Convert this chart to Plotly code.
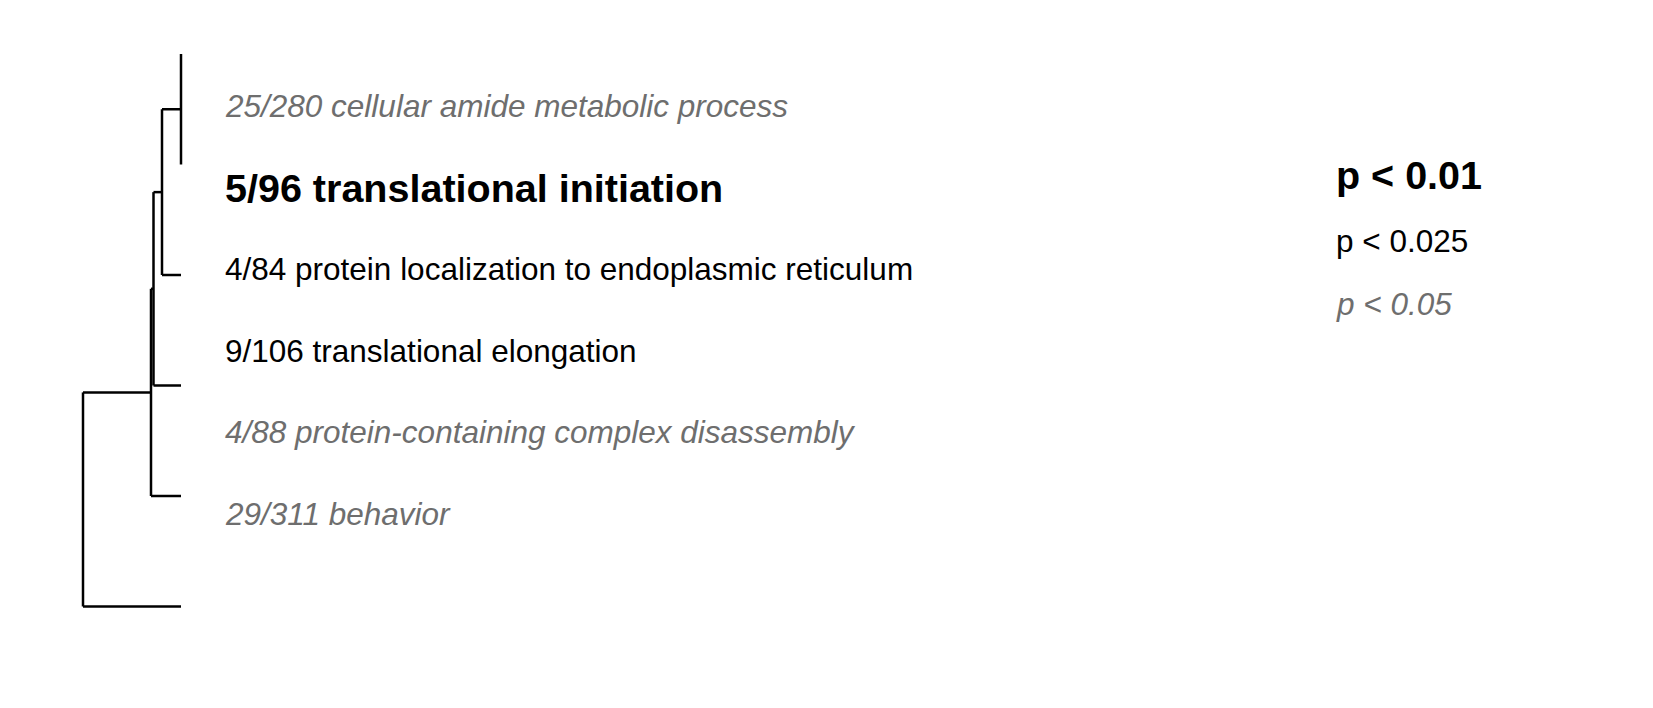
import plotly.graph_objects as go

# ---- data ----
# hclust-style merges: (left, right, height); negative = leaf index, positive = earlier merge
merge_left = [-1, 1, 2, 3, 4]
merge_right = [-2, -3, -4, -5, -6]
merge_height = [0.0, 19.0, 27.5, 30.0, 98.0]
n_leaves = 6

labels = [
    "25/280 cellular amide metabolic process",
    "5/96 translational initiation",
    "4/84 protein localization to endoplasmic reticulum",
    "9/106 translational elongation",
    "4/88 protein-containing complex disassembly",
    "29/311 behavior",
]
label_pvals = [0.04, 0.005, 0.02, 0.02, 0.04, 0.04]

legend_labels = ["p < 0.01", "p < 0.025", "p < 0.05"]
legend_thresholds = [0.01, 0.025, 0.05]

# ---- styles ----
W, H = 1653, 708
GRAY = "#6e6e6e"
FONT = "Liberation Sans, Arial, Helvetica, sans-serif"
styles = {
    0.01: dict(size=39.5, color="black", weight="bold", style="normal"),
    0.025: dict(size=31.5, color="black", weight="normal", style="normal"),
    0.05: dict(size=31.5, color=GRAY, weight="normal", style="italic"),
}


def style_for(p):
    for t in legend_thresholds:
        if p < t:
            return t
    return legend_thresholds[-1]


# ---- dendrogram layout ----
node_y = {}
node_h = {}


def pos(ref):
    if ref < 0:
        return float(-ref), 0.0
    return node_y[ref], node_h[ref]


xs, ys = [], []
for k, (l, r, h) in enumerate(zip(merge_left, merge_right, merge_height), start=1):
    yl, hl = pos(l)
    yr, hr = pos(r)
    # vertical joining bar
    xs += [h, h, None]
    ys += [yl, yr, None]
    # horizontal stubs to children
    xs += [h, hl, None, h, hr, None]
    ys += [yl, yl, None, yr, yr, None]
    node_y[k] = (yl + yr) / 2
    node_h[k] = h

fig = go.Figure()
fig.add_trace(go.Scatter(x=xs, y=ys, mode="lines",
                         line=dict(color="black", width=2.5),
                         hoverinfo="skip", showlegend=False))

# axes: height 0 at the leaf tips, increasing leftwards (1 height unit = 1 px)
tip_px = 181.0
x_range = [tip_px, -(W - tip_px)]
leaf_top_px, leaf_step_px = 54.0, 110.5
y_range = [1 + (H - leaf_top_px) / leaf_step_px, 1 - leaf_top_px / leaf_step_px]

annotations = []
lab_top_px, lab_step_px = 106.0, 81.5
for i, (txt, p) in enumerate(zip(labels, label_pvals)):
    s = styles[style_for(p)]
    annotations.append(dict(
        text=txt, xref="paper", yref="paper",
        x=223 / W, y=1 - (lab_top_px + i * lab_step_px) / H,
        xanchor="left", yanchor="middle", showarrow=False,
        font=dict(family=FONT, size=s["size"], color=s["color"],
                  weight=s["weight"], style=s["style"])))

leg_px = [175, 241, 304]
for txt, t, yp in zip(legend_labels, legend_thresholds, leg_px):
    s = styles[t]
    annotations.append(dict(
        text=txt, xref="paper", yref="paper",
        x=1334 / W, y=1 - yp / H,
        xanchor="left", yanchor="middle", showarrow=False,
        font=dict(family=FONT, size=s["size"], color=s["color"],
                  weight=s["weight"], style=s["style"])))

fig.update_layout(
    width=W, height=H,
    margin=dict(l=0, r=0, t=0, b=0),
    paper_bgcolor="white", plot_bgcolor="white",
    xaxis=dict(range=x_range, visible=False, fixedrange=True),
    yaxis=dict(range=y_range, visible=False, fixedrange=True),
    annotations=annotations,
)

fig.write_html("out.html", config={"displayModeBar": False},
               post_script="document.body.style.margin='0';")
